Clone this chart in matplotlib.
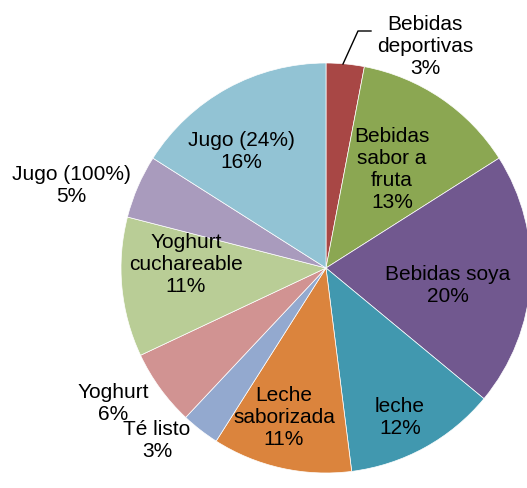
import matplotlib
matplotlib.use("Agg")
import matplotlib.pyplot as plt

labels = ["Bebidas\ndeportivas", "Bebidas\nsabor a\nfruta", "Bebidas soya", "leche",
          "Leche\nsaborizada", "Té listo", "Yoghurt", "Yoghurt\ncuchareable",
          "Jugo (100%)", "Jugo (24%)"]
values = [3, 13, 20, 12, 11, 3, 6, 11, 5, 16]
colors = ["#A84745", "#8BA752", "#71588F", "#4198AF", "#DB843D",
          "#93A9CF", "#D19392", "#B9CD96", "#A99BBD", "#92C3D4"]

# label centres in pixels of the original image (x, y)
label_px = [(425, 47), (392, 170), (448, 285), (400, 418), (284, 418),
            (157, 441), (113, 404), (186, 265), (71, 186), (241, 152)]

plt.rcParams['font.family'] = ['Liberation Sans', 'DejaVu Sans']

fig = plt.figure(figsize=(5.27, 4.89), dpi=100)
cx, cy, r = 326, 269, 205
ax = fig.add_axes([(cx - r) / 527, (489 - cy - r) / 489, 2 * r / 527, 2 * r / 489])
ax.pie(values, colors=colors, startangle=90, counterclock=False, radius=1,
       wedgeprops=dict(edgecolor="white", linewidth=0.5))
ax.set_xlim(-1, 1)
ax.set_ylim(-1, 1)
ax.set_aspect("equal")
ax.axis("off")

for lab, v, (px, py) in zip(labels, values, label_px):
    x = (px - cx) / r
    y = (cy - py) / r
    ax.text(x, y, f"{lab}\n{v}%", ha="center", va="center", fontsize=15,
            linespacing=1.2, clip_on=False)

# leader line for the small slice
pts = [(343, 65), (358, 32), (371, 32)]
ax.plot([(p[0] - cx) / r for p in pts], [(cy - p[1]) / r for p in pts],
        color="black", linewidth=1, clip_on=False)

fig.savefig("out.png", dpi=100)
